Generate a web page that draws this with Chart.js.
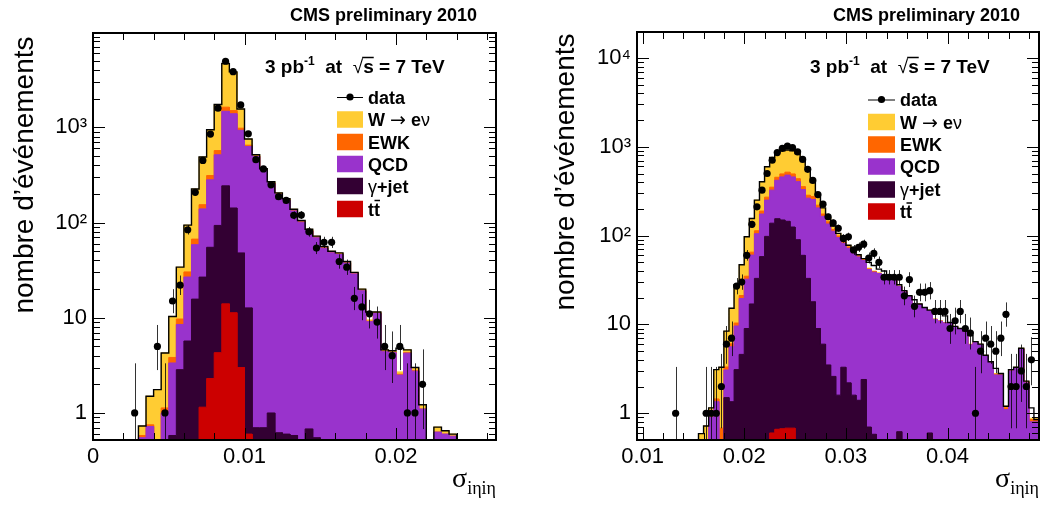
<!DOCTYPE html>
<html>
<head>
<meta charset="utf-8">
<script src="https://cdn.jsdelivr.net/npm/chart.js@4.4.1/dist/chart.umd.min.js"></script>
<style>
html, body { margin: 0; padding: 0; background: #fff; }
#wrap { position: relative; width: 1041px; height: 505px; overflow: hidden; }
#cL { position: absolute; left: 0; top: 0; }
#cR { position: absolute; left: 520px; top: 0; }
</style>
</head>
<body>
<div id="wrap">
  <canvas id="cL" width="520" height="505"></canvas>
  <canvas id="cR" width="521" height="505"></canvas>
</div>
<script>
// sigma_ietaieta histograms, bin width 0.0005, counts per bin
var BIN = 0.0005;

// ---- left panel (bins from 0 to 0.0265) ----
var leftFirstEdge = 0;
var leftData = [0,0,0,0,0,1,0,0,5,1, 15,22,84,208,450,850,1590,4950,3850,1720,
    855,458,366,249,187,171,119,120,80,54, 62,62,39,34,16,13,11,9,5,4,
    5,1,1,2,0,0,0,0,0,0, 0,0,0];
var leftW = [0,0,0,0,0,0,0.15,0.75,1.76,3.14, 6.5,24.3,63.7,158,335,633,1170,3060,2330,580,
    105,16,11,8,6,5,4,3,2.5,2, 1.6,1.4,1.3,1.1,0.8,0.6,0.3,0.3,0.15,0.15,
    0.15,0.3,0.2,0.12,0,0.08,0.05,0.03,0,0, 0,0,0];
var leftEwk = [0,0,0,0,0,0,0.03,0.03,0,0.13, 0.48,1.2,3.5,8.4,15,31,55,155,110,49,
    20,5,4,3,2,2,1.5,1,1,0.8, 0.6,0.5,0.5,0.4,0.3,0.2,0.1,0.1,0.05,0.05,
    0.05,0.05,0.05,0,0,0,0,0,0,0, 0,0,0];
var leftQcd = [0,0,0,0,0,0,0.55,0.72,0,1.0, 2.77,5.65,21.1,42.9,112.3,226,421.7,1232,1247.7,883,
    617.3,493.3,352.3,256,196.4,170.4,131.9,101,80.8,68.6, 53.8,48.1,46.2,37.5,28.9,19.2,9.1,11.1,4.4,4.3,
    2.5,4.25,2.75,1.1,0,0.63,0.6,0.57,0,0, 0,0,0];
var leftGj = [0,0,0,0,0,0,0,0,0,0, 0.58,2.85,5.7,15.7,25.6,52.7,89,229,131,45,
    12.1,0.7,0.7,1.0,0.62,0.6,0.58,0,0.68,0.55, 0,0,0,0,0,0,0,0,0,0,
    0,0,0,0,0,0,0,0,0,0, 0,0,0];
var leftTt = [0,0,0,0,0,0,0,0,0,0, 0,0,0,0,1.15,2.3,4.3,14,11.3,3.0,
    0.6,0,0,0,0,0,0,0,0,0, 0,0,0,0,0,0,0,0,0,0,
    0,0,0,0,0,0,0,0,0,0, 0,0,0];
var leftTotal = [0,0,0,0,0,0,0.73,1.5,1.76,4.27, 10.3,34,94,225,489,945,1740,4690,3830,1560,
    755,515,368,268,205,178,138,105,85,72, 56,50,48,39,30,20,11.5,11.5,4.6,4.5,
    4.8,4.6,3.0,1.22,0,0.71,0.65,0.6,0,0, 0,0,0];

// ---- right panel (bins from 0.0095 to 0.049) ----
var rightFirstEdge = 0.0095;
var rightData = [0,0,0,0,0,0,0,1,0,0, 0,0,0,1,1,1,2,6,7,27,
    30,60,134,211,325,500,705,860,960,1020, 980,878,720,557,418,290,226,163,139,121,
    93,97,69,74,80,56,63,50,34,34, 34,34,21,32,16,23,23,24,14,14,
    14,9,11,14,9,8,1,5,7,6, 5,7,13,2,2,3,2,4,0];
var rightW = [0,0,0,0,0,0,0,0,0,0, 0,0,0.59,0.72,0.25,1.65,2.62,5.08,9.15,17.6,
    25.8,62,91,137.6,215,324,409,406,405,402, 405,403,364,295,125,65,30,17,11,7,
    5,3.5,2.5,2,1.5,0.8,0.6,0.3,0.2,0.2, 0.15,0.15,0.1,0.1,0.1,0.1,0.1,0.1,0.05,0.05,
    0.05,0.05,0.05,0.05,0.05,0.05,0.05,0.05,0.05,0.05, 0.05,0.05,0.05,0.05,0.05,0.05,0.05,0.03,0.03];
var rightEwk = [0,0,0,0,0,0,0,0,0,0, 0,0,0,0,0,0.1,0.68,0.25,0.45,0.77,
    1.57,2.6,4.8,8.4,14,20,26,34,37,38, 37,32,26,21,20,15,10,8,5,4,
    3,2.5,2,1.5,1,0.7,0.6,0.3,0.2,0.2, 0.15,0.15,0.1,0.1,0.1,0.1,0.1,0.1,0.05,0.05,
    0.05,0.05,0.05,0.05,0.05,0.05,0.05,0.05,0.05,0.05, 0.05,0.05,0.05,0.05,0.05,0.05,0.05,0.05,0.05];
var rightQcd = [0,0,0,0,0,0,0,0,0,0, 0,0,0,0,0.9,1.35,0,1.57,4.25,6.5,
    15,23.3,43.3,72,117,153,187,265,308,335, 333,315,270,231,237,196,159,131.5,109.4,93.4,
    78.7,69.8,61.9,56.1,50.1,40.8,38.2,37.4,34.6,33.6, 31.7,26.1,23.3,20.8,15.8,16.8,15.3,13.7,11.4,10.9,
    10.4,10.4,9.4,8.9,8.4,5.9,6.3,5.9,4.4,3.7, 2.7,2.7,1.1,3.0,3.2,5.3,2.2,0.8,0.8];
var rightGj = [0,0,0,0,0,0,0,0,0,0, 0,0,0,0,0,0,0,1.5,1.35,3.1,
    4.6,9,17,33,58,98,137.4,154.3,149.3,144.3, 124.3,90,60,33,18,9,6,3.5,2.6,1.6,
    3.3,2.2,1.6,1.4,2.4,0.7,0.58,0,0,0, 0,0.62,0,0,0,0,0,0.6,0,0,
    0,0,0,0,0,0,0,0,0,0, 0,0,0,0,0,0,0,0,0];
var rightTt = [0,0,0,0,0,0,0,0,0,0, 0,0,0,0,0,0,0,0,0,0,
    0,0,0,0,0,0,0.6,0.66,0.67,0.68, 0.68,0,0,0,0,0,0,0,0,0,
    0,0,0,0,0,0,0,0,0,0, 0,0,0,0,0,0,0,0,0,0,
    0,0,0,0,0,0,0,0,0,0, 0,0,0,0,0,0,0,0,0];
var rightTotal = [0,0,0,0,0,0,0,0,0,0, 0,0,0.59,0.72,1.15,3.1,3.3,8.4,15.2,28,
    47,97,156,251,404,595,760,860,900,920, 900,840,720,580,400,285,205,160,128,106,
    90,78,68,61,55,50,46,42,40,36, 33,28,24,21,19,17,15.5,14.5,14,13.5,
    12.5,10.5,9.5,9,8.5,7.5,6.4,6,4.5,3.8, 3.2,2.8,1.2,3.1,3.3,5.4,2.3,1.15,0.85];

// ---- axes ----
var leftXMajor = [0, 0.01, 0.02];
var leftXLabels = ['0', '0.01', '0.02'];
var rightXMajor = [0.01, 0.02, 0.03, 0.04];
var rightXLabels = ['0.01', '0.02', '0.03', '0.04'];
var yDecades = [1, 10, 100, 1000, 10000];
var yDecadeLabels = ['1', '10', '10\u00b2', '10\u00b3', '10\u2074'];

var COLORS = { w: '#ffcc33', ewk: '#ff6600', qcd: '#9933cc', gj: '#330033', tt: '#cc0000' };
var FONT = '"Liberation Sans", Arial, Helvetica, sans-serif';

function cumulate(layers) {
    var run = layers[0].map(function () { return 0; });
    return layers.map(function (l) {
        run = run.map(function (r, i) { return r + l[i]; });
        return run.slice();
    });
}

function histPoints(first, vals, floor) {
    var pts = [];
    vals.forEach(function (v, i) {
        var y = v > 0 ? v : floor;
        pts.push({ x: first + i * BIN, y: y });
        pts.push({ x: first + (i + 1) * BIN, y: y });
    });
    return pts;
}

function near(a, b) { return Math.abs(a - b) <= Math.abs(b) * 1e-6 + 1e-9; }

function poissonLow(n) { return n - Math.sqrt(n - 0.25); }
function poissonHigh(n) { return n + 1 + Math.sqrt(n + 0.75); }

function richText(ctx, x, y, parts) {
    parts.forEach(function (p) {
        ctx.font = p.f;
        var w = ctx.measureText(p.t).width;
        ctx.fillText(p.t, x, y + (p.dy || 0));
        if (p.over) {
            ctx.save();
            ctx.lineWidth = 1.5;
            ctx.beginPath();
            ctx.moveTo(x + (p.over[0] || 0), y - p.over[1]);
            ctx.lineTo(x + w, y - p.over[1]);
            ctx.stroke();
            ctx.restore();
        }
        x += w;
    });
    return x;
}

var rootStyle = {
    id: 'rootStyle',
    beforeDatasetDraw: function (chart, args) {
        if (args.index !== 0) return;
        var ctx = chart.ctx, a = chart.chartArea, ys = chart.scales.y;
        var meta = chart.getDatasetMeta(0);
        var raw = chart.data.datasets[0].data;
        ctx.save();
        ctx.beginPath();
        ctx.rect(a.left, a.top, a.right - a.left, a.bottom - a.top);
        ctx.clip();
        ctx.strokeStyle = 'rgba(0,0,0,0.8)';
        ctx.lineWidth = 1;
        ctx.beginPath();
        meta.data.forEach(function (pt, i) {
            var n = raw[i].y;
            var lo = Math.max(poissonLow(n), ys.min / 10);
            var x = Math.round(pt.x) + 0.5;
            ctx.moveTo(x, ys.getPixelForValue(lo));
            ctx.lineTo(x, ys.getPixelForValue(poissonHigh(n)));
        });
        ctx.stroke();
        ctx.restore();
    },
    afterDraw: function (chart, args, o) {
        var ctx = chart.ctx, a = chart.chartArea;
        var xs = chart.scales.x, ys = chart.scales.y;
        ctx.save();
        // inward ticks on all four sides
        ctx.strokeStyle = '#000';
        ctx.lineWidth = 1;
        ctx.beginPath();
        xs.ticks.forEach(function (t) {
            var px = Math.round(xs.getPixelForValue(t.value)) + 0.5;
            var major = o.xMajor.some(function (m) { return near(t.value, m); });
            var len = major ? 12 : 7;
            ctx.moveTo(px, a.bottom); ctx.lineTo(px, a.bottom - len);
            ctx.moveTo(px, a.top); ctx.lineTo(px, a.top + len);
        });
        ys.ticks.forEach(function (t) {
            var py = Math.round(ys.getPixelForValue(t.value)) + 0.5;
            var major = yDecades.some(function (m) { return near(t.value, m); });
            var len = major ? 12 : 7;
            ctx.moveTo(a.left, py); ctx.lineTo(a.left + len, py);
            ctx.moveTo(a.right, py); ctx.lineTo(a.right - len, py);
        });
        ctx.stroke();
        // frame
        ctx.lineWidth = 2;
        ctx.strokeRect(a.left, a.top, a.right - a.left, a.bottom - a.top);

        ctx.fillStyle = '#000';
        ctx.strokeStyle = '#000';
        ctx.textBaseline = 'alphabetic';

        // header
        ctx.font = 'bold 18px ' + FONT;
        ctx.textAlign = 'right';
        ctx.fillText('CMS preliminary 2010', o.cmsX, 21);

        // luminosity line
        ctx.textAlign = 'left';
        var B = 'bold 19px ' + FONT;
        richText(ctx, o.lumiX, 72.5, [
            { t: '3 pb', f: B },
            { t: '-1', f: 'bold 12px ' + FONT, dy: -8 },
            { t: '  at  ', f: B },
            { t: '\u221a', f: '19px ' + FONT },
            { t: 's', f: B, over: [-1, 15] },
            { t: ' = 7 TeV', f: B }
        ]);

        // y title
        ctx.save();
        ctx.translate(o.yTitleX, o.yTitleY);
        ctx.rotate(-Math.PI / 2);
        ctx.textAlign = 'center';
        ctx.font = '28px ' + FONT;
        ctx.fillText('nombre d\u2019\u00e9v\u00e9nements', 0, 0);
        ctx.restore();

        // x title: sigma_{i eta i eta}
        ctx.textAlign = 'left';
        ctx.font = '18px "Liberation Serif", serif';
        var subW = ctx.measureText('i\u03b7i\u03b7').width;
        var subX = a.right - subW;
        ctx.fillText('i\u03b7i\u03b7', subX, 494);
        ctx.font = '28px "Liberation Serif", serif';
        var sW = ctx.measureText('\u03c3').width;
        ctx.fillText('\u03c3', subX - sW, 487);

        // legend
        var L = o.legend;
        var TB = 'bold 18px ' + FONT, TR = '18px ' + FONT;
        L.rows.forEach(function (ry, i) {
            if (i === 0) {
                ctx.lineWidth = 1;
                ctx.beginPath();
                ctx.moveTo(L.boxX, ry + 0.5);
                ctx.lineTo(L.boxX + L.boxW, ry + 0.5);
                ctx.stroke();
                ctx.beginPath();
                ctx.arc(L.boxX + L.boxW / 2, ry, 3.6, 0, Math.PI * 2);
                ctx.fill();
            } else {
                ctx.fillStyle = L.colors[i - 1];
                ctx.fillRect(L.boxX, ry - L.boxH / 2, L.boxW, L.boxH);
                ctx.fillStyle = '#000';
            }
        });
        var bl = 6.5;
        richText(ctx, L.textX, L.rows[0] + bl, [{ t: 'data', f: TB }]);
        richText(ctx, L.textX, L.rows[1] + bl, [
            { t: 'W ', f: TB }, { t: '\u2192', f: '19px "DejaVu Sans", sans-serif' },
            { t: ' e', f: TB }, { t: '\u03bd', f: TR }
        ]);
        richText(ctx, L.textX, L.rows[2] + bl, [{ t: 'EWK', f: TB }]);
        richText(ctx, L.textX, L.rows[3] + bl, [{ t: 'QCD', f: TB }]);
        richText(ctx, L.textX, L.rows[4] + bl, [{ t: '\u03b3', f: TR }, { t: '+jet', f: TB }]);
        richText(ctx, L.textX, L.rows[5] + bl, [{ t: 't', f: TB }, { t: 't', f: TB, over: [0.5, 15] }]);
        ctx.restore();
    }
};

function makePanel(canvasId, p) {
    var cum = cumulate([p.tt, p.gj, p.qcd, p.ewk, p.w]);
    var floor = p.yMin / 10;
    var dataPts = [];
    p.data.forEach(function (n, i) {
        if (n > 0) dataPts.push({ x: p.firstEdge + (i + 0.5) * BIN, y: n });
    });
    var layers = [
        { label: 't\u0074\u0304', color: COLORS.tt, vals: cum[0] },
        { label: '\u03b3+jet', color: COLORS.gj, vals: cum[1] },
        { label: 'QCD', color: COLORS.qcd, vals: cum[2] },
        { label: 'EWK', color: COLORS.ewk, vals: cum[3] },
        { label: 'W \u2192 e\u03bd', color: COLORS.w, vals: cum[4] }
    ];
    var datasets = [
        {
            label: 'data', data: dataPts, showLine: false, order: 0,
            pointRadius: 3.6, pointBackgroundColor: '#000', pointBorderWidth: 0
        },
        {
            label: 'total MC', data: histPoints(p.firstEdge, p.total, floor), order: 1,
            borderColor: '#000', borderWidth: 1.4, pointRadius: 0, fill: false
        }
    ];
    layers.forEach(function (l, i) {
        datasets.push({
            label: l.label, data: histPoints(p.firstEdge, l.vals, floor), order: 2 + i,
            borderColor: l.color, backgroundColor: l.color, borderWidth: 1,
            pointRadius: 0, fill: 'start'
        });
    });

    var xTicks = [];
    for (var v = Math.ceil(p.xMin / 0.002 - 1e-9) * 0.002; v <= p.xMax + 1e-12; v += 0.002) {
        xTicks.push({ value: Math.round(v * 1e6) / 1e6 });
    }
    var yTicks = [];
    for (var d = Math.floor(Math.log10(p.yMin)); d <= Math.ceil(Math.log10(p.yMax)); d++) {
        for (var m = 1; m <= 9; m++) {
            var tv = m * Math.pow(10, d);
            if (tv >= p.yMin && tv <= p.yMax) yTicks.push({ value: tv });
        }
    }

    new Chart(document.getElementById(canvasId), {
        type: 'line',
        data: { datasets: datasets },
        plugins: [rootStyle],
        options: {
            responsive: false,
            animation: false,
            events: [],
            devicePixelRatio: 1,
            layout: { autoPadding: false, padding: { left: 0, right: p.padRight, top: p.padTop, bottom: 0 } },
            plugins: {
                legend: { display: false },
                tooltip: { enabled: false },
                rootStyle: p.style
            },
            elements: { line: { tension: 0 } },
            scales: {
                x: {
                    type: 'linear', min: p.xMin, max: p.xMax,
                    grid: { display: false, drawTicks: false },
                    border: { display: false },
                    afterBuildTicks: function (s) { s.ticks = xTicks.slice(); },
                    afterFit: function (s) { s.height = 65; },
                    ticks: {
                        autoSkip: false, maxRotation: 0, padding: 4, color: '#000',
                        font: { family: FONT, size: 22 },
                        callback: function (value) {
                            for (var i = 0; i < p.xMajor.length; i++) {
                                if (near(value, p.xMajor[i])) return p.xLabels[i];
                            }
                            return '';
                        }
                    }
                },
                y: {
                    type: 'logarithmic', min: p.yMin, max: p.yMax,
                    grid: { display: false, drawTicks: false },
                    border: { display: false },
                    afterBuildTicks: function (s) { s.ticks = yTicks.slice(); },
                    afterFit: function (s) { s.width = p.yWidth; },
                    ticks: {
                        autoSkip: false, padding: 6, color: '#000',
                        font: { family: FONT, size: 22 },
                        callback: function (value) {
                            for (var i = 0; i < yDecades.length; i++) {
                                if (near(value, yDecades[i])) return yDecadeLabels[i];
                            }
                            return '';
                        }
                    }
                }
            }
        }
    });
}

var legendColors = [COLORS.w, COLORS.ewk, COLORS.qcd, COLORS.gj, COLORS.tt];

makePanel('cL', {
    firstEdge: leftFirstEdge, data: leftData, total: leftTotal,
    w: leftW, ewk: leftEwk, qcd: leftQcd, gj: leftGj, tt: leftTt,
    xMin: 0, xMax: 0.0266, yMin: 0.52, yMax: 9800,
    xMajor: leftXMajor, xLabels: leftXLabels,
    yWidth: 93, padRight: 24, padTop: 33,
    style: {
        xMajor: leftXMajor, cmsX: 477, lumiX: 265, yTitleX: 32.5, yTitleY: 175,
        legend: { boxX: 337, boxW: 26, boxH: 16.5, textX: 368,
            rows: [97, 119.5, 142, 164, 186, 209], colors: legendColors }
    }
});

makePanel('cR', {
    firstEdge: rightFirstEdge, data: rightData, total: rightTotal,
    w: rightW, ewk: rightEwk, qcd: rightQcd, gj: rightGj, tt: rightTt,
    xMin: 0.00945, xMax: 0.049, yMin: 0.5, yMax: 19600,
    xMajor: rightXMajor, xLabels: rightXLabels,
    yWidth: 117, padRight: 2, padTop: 32,
    style: {
        xMajor: rightXMajor, cmsX: 500, lumiX: 290, yTitleX: 53.5, yTitleY: 172,
        legend: { boxX: 348, boxW: 27, boxH: 16.5, textX: 380,
            rows: [99.5, 122, 144.5, 166.5, 189.5, 211.5], colors: legendColors }
    }
});
</script>
</body>
</html>
